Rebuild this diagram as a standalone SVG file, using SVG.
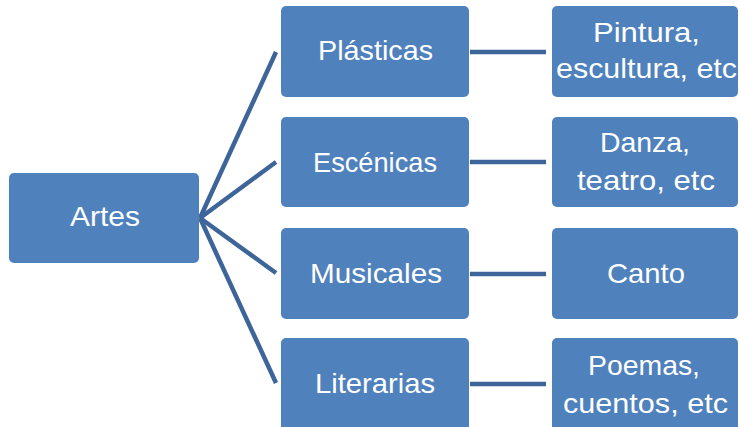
<svg xmlns="http://www.w3.org/2000/svg" width="739" height="427" viewBox="0 0 739 427">
<style>
.box{fill:#4f81bd;}
.t{fill:#ffffff;font-family:"Liberation Sans",Arial,sans-serif;font-size:28px;text-anchor:middle;}
.c{stroke:#3e6599;stroke-width:4.5;fill:none;stroke-linecap:butt;}
</style>
<rect width="739" height="427" fill="#ffffff"/>
<g id="connectors">
<line class="c" x1="200" y1="218" x2="276" y2="52"/>
<line class="c" x1="200" y1="218" x2="276" y2="162"/>
<line class="c" x1="200" y1="218" x2="276" y2="273"/>
<line class="c" x1="200" y1="218" x2="276" y2="383"/>
<line class="c" x1="470" y1="52" x2="546" y2="52"/>
<line class="c" x1="470" y1="162" x2="546" y2="162"/>
<line class="c" x1="470" y1="274" x2="546" y2="274"/>
<line class="c" x1="470" y1="384" x2="546" y2="384"/>
</g>
<g id="artes"><rect class="box" x="9" y="173" width="190" height="90" rx="5"/><text class="t" x="105" y="226" textLength="70" lengthAdjust="spacingAndGlyphs">Artes</text></g>
<g id="plasticas"><rect class="box" x="281" y="6" width="188" height="91" rx="5"/><text class="t" x="375.5" y="60" textLength="115" lengthAdjust="spacingAndGlyphs">Plásticas</text></g>
<g id="escenicas"><rect class="box" x="281" y="117" width="188" height="90" rx="5"/><text class="t" x="375" y="172" textLength="124" lengthAdjust="spacingAndGlyphs">Escénicas</text></g>
<g id="musicales"><rect class="box" x="281" y="228" width="188" height="91" rx="5"/><text class="t" x="376" y="283" textLength="132" lengthAdjust="spacingAndGlyphs">Musicales</text></g>
<g id="literarias"><rect class="box" x="281" y="338" width="188" height="95" rx="5"/><text class="t" x="375" y="393" textLength="120" lengthAdjust="spacingAndGlyphs">Literarias</text></g>
<g id="pintura"><rect class="box" x="552" y="6" width="186" height="91" rx="5"/><text class="t" x="646.5" y="42" textLength="107" lengthAdjust="spacingAndGlyphs">Pintura,</text><text class="t" x="646.5" y="78" textLength="181" lengthAdjust="spacingAndGlyphs">escultura, etc</text></g>
<g id="danza"><rect class="box" x="552" y="117" width="186" height="90" rx="5"/><text class="t" x="645" y="152" textLength="90" lengthAdjust="spacingAndGlyphs">Danza,</text><text class="t" x="646" y="190" textLength="138" lengthAdjust="spacingAndGlyphs">teatro, etc</text></g>
<g id="canto"><rect class="box" x="552" y="228" width="186" height="91" rx="5"/><text class="t" x="646" y="283" textLength="78" lengthAdjust="spacingAndGlyphs">Canto</text></g>
<g id="poemas"><rect class="box" x="552" y="338" width="186" height="95" rx="5"/><text class="t" x="644" y="375" textLength="112" lengthAdjust="spacingAndGlyphs">Poemas,</text><text class="t" x="645.5" y="413" textLength="165" lengthAdjust="spacingAndGlyphs">cuentos, etc</text></g>
</svg>
